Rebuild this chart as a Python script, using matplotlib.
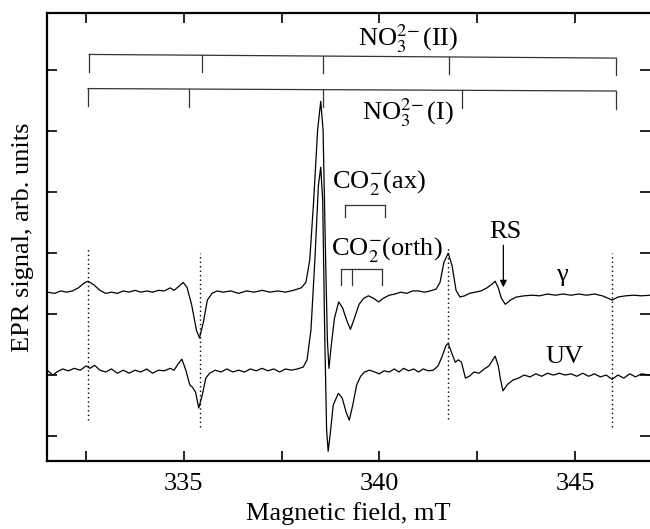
"""
EPR spectra of gamma- and UV-irradiated sample.
Values read off the reference picture by hand.
"""

import matplotlib.pyplot as plt
from matplotlib.ticker import MultipleLocator, NullFormatter

# ========================= Data ======================================
# Magnetic field (mT) and signal (arb. units, offset included) - gamma trace
field_gamma = [331.50, 331.70, 331.85, 332.00, 332.15, 332.30, 332.45, 332.55,
               332.70, 332.85, 333.00, 333.15, 333.30, 333.45, 333.60, 333.75,
               333.90, 334.05, 334.20, 334.35, 334.50, 334.65, 334.75, 334.88,
               334.98, 335.08, 335.20, 335.32, 335.40, 335.50, 335.60, 335.72,
               335.85, 336.00, 336.20, 336.40, 336.60, 336.80, 337.00, 337.20,
               337.40, 337.60, 337.80, 338.00, 338.12, 338.22, 338.32, 338.42,
               338.50, 338.56, 338.62, 338.67, 338.71, 338.77, 338.85, 338.96,
               339.06, 339.18, 339.26, 339.36, 339.48, 339.60, 339.72, 339.85,
               339.98, 340.10, 340.25, 340.40, 340.55, 340.70, 340.85, 341.00,
               341.15, 341.30, 341.45, 341.55, 341.65, 341.76, 341.86, 341.96,
               342.06, 342.18, 342.30, 342.45, 342.60, 342.75, 342.88, 342.96,
               343.04, 343.12, 343.22, 343.35, 343.50, 343.70, 343.90, 344.10,
               344.30, 344.50, 344.70, 344.90, 345.10, 345.30, 345.50, 345.70,
               345.85, 345.95, 346.10, 346.30, 346.50, 346.70, 346.92]
signal_gamma = [2.36, 2.34, 2.38, 2.36, 2.38, 2.43, 2.51, 2.54,
                2.48, 2.39, 2.34, 2.36, 2.34, 2.38, 2.36, 2.39,
                2.36, 2.38, 2.36, 2.39, 2.38, 2.43, 2.39, 2.46,
                2.52, 2.44, 2.15, 1.74, 1.61, 1.87, 2.23, 2.34,
                2.38, 2.36, 2.38, 2.34, 2.38, 2.36, 2.39, 2.36,
                2.38, 2.36, 2.39, 2.43, 2.52, 2.89, 3.87, 5.02,
                5.49, 5.02, 3.05, 1.57, 1.11, 1.49, 1.93, 2.20,
                2.10, 1.87, 1.75, 1.93, 2.16, 2.26, 2.30, 2.26,
                2.20, 2.26, 2.31, 2.33, 2.36, 2.34, 2.38, 2.38,
                2.36, 2.38, 2.41, 2.52, 2.85, 3.00, 2.79, 2.39,
                2.28, 2.30, 2.34, 2.36, 2.38, 2.43, 2.49, 2.54,
                2.43, 2.26, 2.16, 2.23, 2.28, 2.30, 2.31, 2.30,
                2.33, 2.31, 2.33, 2.31, 2.33, 2.31, 2.33, 2.30,
                2.26, 2.23, 2.28, 2.30, 2.31, 2.30, 2.31]

# UV trace
field_uv = [331.50, 331.65, 331.75, 331.90, 332.05, 332.20, 332.35, 332.50,
            332.60, 332.72, 332.85, 333.00, 333.15, 333.30, 333.45, 333.60,
            333.75, 333.90, 334.05, 334.20, 334.35, 334.50, 334.65, 334.75,
            334.85, 334.95, 335.05, 335.15, 335.22, 335.30, 335.38, 335.47,
            335.56, 335.66, 335.80, 335.95, 336.10, 336.25, 336.40, 336.55,
            336.70, 336.85, 337.00, 337.15, 337.30, 337.45, 337.60, 337.75,
            337.90, 338.05, 338.15, 338.25, 338.35, 338.44, 338.50, 338.55,
            338.60, 338.65, 338.69, 338.74, 338.82, 338.95, 339.05, 339.15,
            339.23, 339.32, 339.42, 339.52, 339.62, 339.75, 339.88, 340.00,
            340.12, 340.25, 340.38, 340.50, 340.62, 340.75, 340.88, 341.00,
            341.12, 341.25, 341.38, 341.50, 341.60, 341.70, 341.76, 341.84,
            341.94, 342.02, 342.10, 342.20, 342.30, 342.42, 342.55, 342.68,
            342.80, 342.90, 342.96, 343.04, 343.10, 343.16, 343.28, 343.42,
            343.56, 343.70, 343.85, 344.00, 344.15, 344.30, 344.45, 344.60,
            344.75, 344.90, 345.05, 345.20, 345.35, 345.50, 345.65, 345.80,
            345.95, 346.10, 346.25, 346.40, 346.55, 346.70, 346.92]
signal_uv = [1.08, 1.00, 1.05, 1.10, 1.07, 1.11, 1.08, 1.15,
             1.11, 1.16, 1.08, 1.05, 1.10, 1.03, 1.08, 1.03,
             1.08, 1.05, 1.10, 1.03, 1.08, 1.07, 1.11, 1.08,
             1.18, 1.26, 1.08, 0.84, 0.80, 0.72, 0.46, 0.67,
             0.95, 1.03, 1.08, 1.05, 1.10, 1.05, 1.08, 1.05,
             1.10, 1.07, 1.11, 1.07, 1.10, 1.05, 1.10, 1.08,
             1.10, 1.13, 1.25, 1.74, 2.89, 4.11, 4.41, 3.87,
             1.74, 0.10, -0.25, 0.02, 0.51, 0.70, 0.62, 0.39,
             0.26, 0.51, 0.84, 0.98, 1.05, 1.08, 1.05, 1.02,
             1.07, 1.05, 1.10, 1.05, 1.11, 1.07, 1.10, 1.05,
             1.10, 1.07, 1.08, 1.15, 1.30, 1.48, 1.52, 1.38,
             1.21, 1.25, 1.21, 0.95, 0.98, 1.05, 1.03, 1.10,
             1.15, 1.25, 1.31, 1.15, 0.92, 0.74, 0.85, 0.92,
             0.95, 1.00, 0.97, 1.02, 0.98, 1.03, 1.00, 1.03,
             1.00, 1.02, 0.98, 1.03, 0.98, 1.02, 0.97, 1.00,
             0.93, 1.00, 0.95, 1.02, 0.97, 1.02, 1.00]

# Stick diagrams (line positions, mT)
no3_II_lines = [332.58, 335.46, 338.55, 341.79, 346.05]
no3_I_lines = [332.55, 335.13, 338.57, 342.12, 346.05]
co2_ax_lines = [339.11, 340.15]
co2_orth_lines = [339.03, 339.31, 340.07]

# Dotted markers: (field, top, bottom)
dotted_marks = [(332.55, 3.08, 0.26), (335.40, 3.00, 0.15),
                (341.76, 3.10, 0.28), (345.95, 3.00, 0.15)]

# ========================= Styling ===================================
plt.rcParams.update({
    'font.family': ['Liberation Serif', 'DejaVu Serif'],
    'mathtext.fontset': 'stix',
    'font.size': 19,
})

fig = plt.figure(figsize=(6.5, 5.29), dpi=100)
ax = fig.add_axes([47 / 650, 68 / 529, 603 / 650, 448 / 529])

ax.plot(field_gamma, signal_gamma, color='black', lw=0.9)
ax.plot(field_uv, signal_uv, color='black', lw=0.9)

for x, top, bot in dotted_marks:
    ax.plot([x, x], [bot, top], color='black', lw=1.0, ls=(0, (1, 2.2)))


def stick(lines, y_left, y_right, drop):
    x0, x1 = lines[0], lines[-1]
    slope = (y_right - y_left) / (x1 - x0)
    ax.plot([x0, x1], [y_left, y_right], color='#333333', lw=0.9)
    for x in lines:
        y = y_left + slope * (x - x0)
        ax.plot([x, x], [y, y - drop], color='#333333', lw=0.9)


stick(no3_II_lines, 6.26, 6.20, 0.28)
stick(no3_I_lines, 5.70, 5.66, 0.29)
stick(co2_ax_lines, 3.79, 3.79, 0.20)
stick(co2_orth_lines, 2.74, 2.74, 0.26)

ax.text(340.74, 6.52, r'NO$_3^{2\!-}$(II)', ha='center', va='center')
ax.text(340.74, 5.31, r'NO$_3^{2\!-}$(I)', ha='center', va='center')
ax.text(340.0, 4.15, r'CO$_2^{-}$(ax)', ha='center', va='center')
ax.text(340.2, 3.05, r'CO$_2^{-}$(orth)', ha='center', va='center')
ax.text(343.22, 3.34, 'RS', ha='center', va='center')
ax.annotate('', xy=(343.17, 2.44), xytext=(343.17, 3.13),
            arrowprops=dict(arrowstyle='-|>', color='black', lw=0.9,
                            mutation_scale=10, shrinkA=0, shrinkB=0))
ax.text(344.67, 2.64, 'γ', ha='center', va='center')
ax.text(344.72, 1.30, 'UV', ha='center', va='center')

ax.set_xlim(331.5, 346.92)
ax.set_ylim(-0.41, 6.94)
ax.xaxis.set_major_locator(MultipleLocator(5))
ax.xaxis.set_minor_locator(MultipleLocator(2.5))
ax.yaxis.set_major_locator(MultipleLocator(1))
ax.yaxis.set_major_formatter(NullFormatter())
ax.tick_params(which='both', direction='in', length=7, width=1.2,
               top=True, right=True, labelsize=19)
ax.tick_params(axis='x', pad=9)
for side in ['left', 'bottom', 'top']:
    ax.spines[side].set_linewidth(1.6)
ax.spines['right'].set_visible(False)

ax.set_xlabel('Magnetic field, mT', labelpad=5)
ax.set_ylabel('EPR signal, arb. units', labelpad=6)

fig.savefig('out.png', dpi=100)
